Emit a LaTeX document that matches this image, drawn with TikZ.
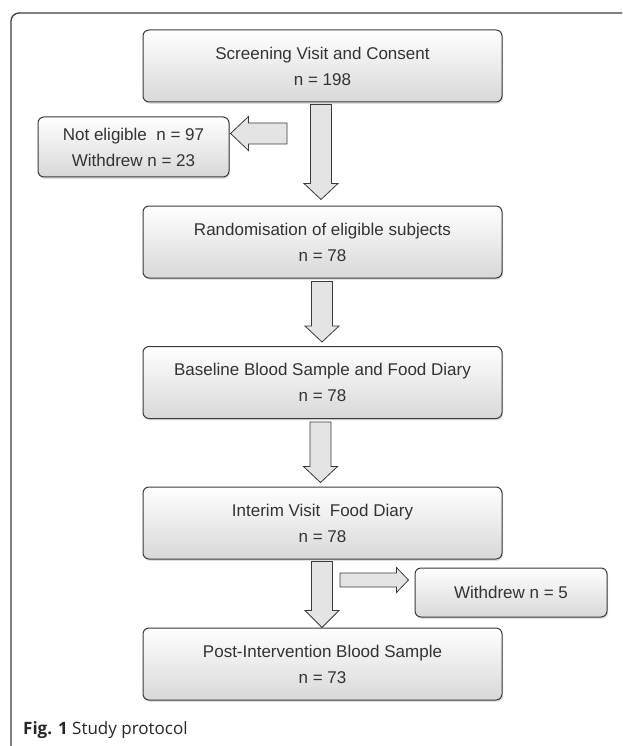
\documentclass[tikz,border=0pt]{standalone}
\usepackage{fontspec}
\setmainfont{Liberation Sans}
\newfontfamily\capfont{Open Sans}
\usetikzlibrary{calc,shadows}
\definecolor{txt}{HTML}{333333}
\definecolor{edge}{HTML}{3A3A3A}
\definecolor{afill}{HTML}{E4E4E4}
\definecolor{bbot}{HTML}{D8D8D8}
\begin{document}
\begin{tikzpicture}[x=1pt,y=1pt,
  box/.style={draw=edge, line width=1pt, rounded corners=6pt,
    top color=white, bottom color=bbot, text=txt, align=center,
    font=\fontsize{17}{26}\selectfont, inner sep=0pt,
    drop shadow={shadow xshift=1.2pt, shadow yshift=-1.8pt, opacity=0.25}},
  barrow/.style n args={3}{draw=edge, fill=afill, line width=0.8pt, line join=miter,
    to path={let \p1=($(\tikztotarget)-(\tikztostart)$),
      \n1={veclen(\x1,\y1)}, \n2={atan2(\y1,\x1)}, \n3={\n1-#3} in
      ($(\tikztostart)+(\n2+90:#1/2)$)
      -- ($(\tikztostart)+(\n2+90:#1/2)+(\n2:\n3)$)
      -- ($(\tikztostart)+(\n2+90:#2/2)+(\n2:\n3)$)
      -- (\tikztotarget)
      -- ($(\tikztostart)+(\n2-90:#2/2)+(\n2:\n3)$)
      -- ($(\tikztostart)+(\n2-90:#1/2)+(\n2:\n3)$)
      -- ($(\tikztostart)+(\n2-90:#1/2)$)
      -- cycle}},
  frame/.style={draw=edge, line width=1.3pt, rounded corners=8pt}]
\useasboundingbox (0,0) rectangle (622,-746);

% frame
\draw[frame] (11,-746) -- (11,-13) -- (622,-13);

% boxes
\node[box, minimum width=359, minimum height=72] (b1) at (322.5,-66)
  {Screening Visit and Consent\\n = 198};
\node[box, minimum width=191, minimum height=60] (lb) at (133.5,-147)
  {Not eligible~~n = 97\\Withdrew n = 23};
\node[box, minimum width=359, minimum height=72] (b2) at (322.5,-242)
  {Randomisation of eligible subjects\\n = 78};
\node[box, minimum width=359, minimum height=72] (b3) at (322.5,-382.5)
  {Baseline Blood Sample and Food Diary\\n = 78};
\node[box, minimum width=359, minimum height=72] (b4) at (322.5,-523)
  {Interim Visit~~Food Diary\\n = 78};
\node[box, minimum width=192, minimum height=49] (wb) at (511,-592.5)
  {Withdrew n = 5};
\node[box, minimum width=359, minimum height=72] (b5) at (322.5,-664)
  {Post-Intervention Blood Sample\\n = 73};

% block arrows
\draw[barrow={21}{34}{16}] ([xshift=-1.5pt,yshift=-2pt]b1.south) to ([xshift=-1.5pt,yshift=6pt]b2.north);
\draw[barrow={21}{34}{16}] ([xshift=-0.5pt,yshift=-3pt]b2.south) to ([xshift=-0.5pt,yshift=4pt]b3.north);
\draw[barrow={21}{34}{16}] ([xshift=-2pt,yshift=-3pt]b3.south) to ([xshift=-2pt,yshift=4pt]b4.north);
\draw[barrow={21}{34}{17}] ([xshift=-0.5pt,yshift=-2pt]b4.south) to ([xshift=-0.5pt]b5.north);

\coordinate (la) at (287,-133.5);
\draw[barrow={21}{34}{18}] (la) to ($(lb.east |- la)+(1,0)$);
\coordinate (ra) at (340,-580);
\draw[barrow={14}{25}{12}] (ra) to ($(wb.west |- ra)+(-6,0)$);

% caption
\node[anchor=base west, inner sep=0pt, text=black!85,
  font=\capfont\fontsize{17}{20}\selectfont] (cap) at (23,-734)
  {\textbf{Fig. 1} Study protocol};
\end{tikzpicture}
\end{document}
